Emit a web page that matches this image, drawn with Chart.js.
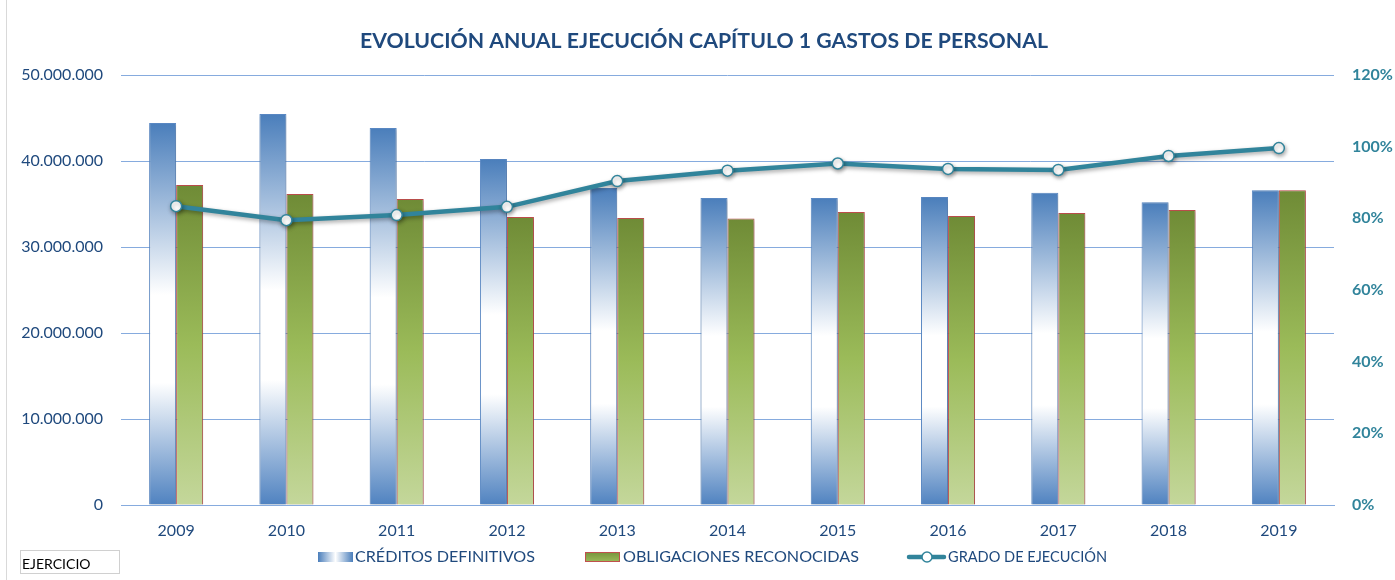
<!DOCTYPE html>
<html>
<head>
<meta charset="utf-8">
<script src="https://cdn.jsdelivr.net/npm/chart.js@4"></script>
<style>
  html, body { margin: 0; padding: 0; background: #fff; }
  #wrap { position: relative; width: 1395px; height: 580px; }
  #border { position: absolute; left: 6px; top: 0; width: 1px; height: 580px; background: #d9d9d9; }
  #field {
    position: absolute; left: 20px; top: 550px; width: 100px; height: 24px;
    border: 1px solid #d0d0d0; font: 14px Lato, "Open Sans", sans-serif; color: #000;
    box-sizing: border-box; padding: 5px 0 0 1px; line-height: 16px;
  }
</style>
</head>
<body>
<div id="wrap">
  <canvas id="chart" width="1395" height="580"></canvas>
  <div id="border"></div>
  <div id="field">EJERCICIO</div>
</div>
<script>
const years = ["2009", "2010", "2011", "2012", "2013", "2014", "2015", "2016", "2017", "2018", "2019"];
const creditos = [44420000, 45470000, 43840000, 40230000, 36860000, 35700000, 35700000, 35800000, 36300000, 35200000, 36600000];
const obligaciones = [37200000, 36160000, 35580000, 33500000, 33370000, 33300000, 34070000, 33600000, 33950000, 34300000, 36600000];
const grado = [0.834, 0.795, 0.809, 0.832, 0.904, 0.933, 0.953, 0.938, 0.935, 0.974, 0.996];
const leftTicks = [0, 10000000, 20000000, 30000000, 40000000, 50000000];
const rightTicks = [0, 0.2, 0.4, 0.6, 0.8, 1.0, 1.2];

const TITLE = "EVOLUCIÓN ANUAL EJECUCIÓN CAPÍTULO 1 GASTOS DE PERSONAL";
const FONT = "Lato, 'Open Sans', sans-serif";
const DARK_BLUE = "#1F497D";
const TEAL = "#31849B";
const GRID = "#86ABDE";

function fmtThousands(v) {
  return String(Math.round(v)).replace(/\B(?=(\d{3})+(?!\d))/g, ".");
}

// draw text squeezed/stretched to a given width
function fitText(ctx, text, x, y, width) {
  const w = ctx.measureText(text).width;
  ctx.save();
  ctx.translate(x, y);
  ctx.scale(width / w, 1);
  ctx.fillText(text, 0, 0);
  ctx.restore();
}

function blueGrad(ctx, top, bottom) {
  const g = ctx.createLinearGradient(0, top, 0, bottom);
  g.addColorStop(0, "#4A7EBB");
  g.addColorStop(0.45, "#ffffff");
  g.addColorStop(0.68, "#ffffff");
  g.addColorStop(1, "#4F82C0");
  return g;
}

function greenGrad(ctx, top, bottom) {
  const g = ctx.createLinearGradient(0, top, 0, bottom);
  g.addColorStop(0, "#6F8B36");
  g.addColorStop(0.5, "#9BBB59");
  g.addColorStop(1, "#C4D79B");
  return g;
}

function barFill(kind) {
  return function (c) {
    const chart = c.chart;
    if (!chart.chartArea) return kind === "blue" ? "#4A7EBB" : "#77933C";
    const y = chart.scales.y;
    const top = y.getPixelForValue(c.raw || 0);
    const bottom = y.getPixelForValue(0);
    return kind === "blue" ? blueGrad(chart.ctx, top, bottom) : greenGrad(chart.ctx, top, bottom);
  };
}

// shadows, title and legend drawn on the canvas
const decor = {
  id: "decor",
  beforeDatasetDraw(chart, args) {
    const ctx = chart.ctx;
    ctx.save();
    if (args.meta.type === "line") {
      ctx.shadowColor = "rgba(0,0,0,0.35)";
      ctx.shadowBlur = 4;
      ctx.shadowOffsetX = 1;
      ctx.shadowOffsetY = 2;
    } else {
      ctx.shadowColor = "rgba(0,0,0,0.25)";
      ctx.shadowBlur = 3;
      ctx.shadowOffsetX = 1;
      ctx.shadowOffsetY = 1;
    }
  },
  afterDatasetDraw(chart) {
    chart.ctx.restore();
  },
  afterDraw(chart) {
    const ctx = chart.ctx;
    ctx.save();
    ctx.fillStyle = DARK_BLUE;
    ctx.font = "bold 21px " + FONT;
    ctx.textAlign = "left";
    ctx.textBaseline = "middle";
    fitText(ctx, TITLE, 360, 41, 688);

    // legend
    const ly = 557;
    ctx.font = "16px " + FONT;

    const bg = ctx.createLinearGradient(318, 0, 353, 0);
    bg.addColorStop(0, "#4A7EBB");
    bg.addColorStop(0.5, "#ffffff");
    bg.addColorStop(1, "#4A7EBB");
    ctx.fillStyle = bg;
    ctx.fillRect(318, ly - 5, 35, 10);
    ctx.fillStyle = DARK_BLUE;
    fitText(ctx, "CRÉDITOS DEFINITIVOS", 355, ly, 180);

    const gg = ctx.createLinearGradient(0, ly - 5, 0, ly + 5);
    gg.addColorStop(0, "#77933C");
    gg.addColorStop(1, "#9BBB59");
    ctx.fillStyle = gg;
    ctx.fillRect(585, ly - 5, 35, 10);
    ctx.strokeStyle = "#C0504D";
    ctx.lineWidth = 1;
    ctx.strokeRect(585.5, ly - 4.5, 34, 9);
    ctx.fillStyle = DARK_BLUE;
    fitText(ctx, "OBLIGACIONES RECONOCIDAS", 623, ly, 236);

    ctx.strokeStyle = TEAL;
    ctx.lineWidth = 4.5;
    ctx.lineCap = "round";
    ctx.beginPath();
    ctx.moveTo(909, ly);
    ctx.lineTo(944, ly);
    ctx.stroke();
    ctx.beginPath();
    ctx.arc(927, ly, 5, 0, Math.PI * 2);
    ctx.fillStyle = "#fff";
    ctx.fill();
    ctx.lineWidth = 1.5;
    ctx.stroke();
    ctx.fillStyle = DARK_BLUE;
    fitText(ctx, "GRADO DE EJECUCIÓN", 948, ly, 159);
    ctx.restore();
  }
};

new Chart(document.getElementById("chart").getContext("2d"), {
  data: {
    labels: years,
    datasets: [
      {
        type: "line",
        label: "GRADO DE EJECUCIÓN",
        data: grado,
        yAxisID: "y1",
        borderColor: TEAL,
        borderWidth: 4.5,
        pointRadius: 5.5,
        pointBackgroundColor: "#ffffff",
        pointBorderColor: TEAL,
        pointBorderWidth: 1.5,
        tension: 0,
        order: 0
      },
      {
        type: "bar",
        label: "CRÉDITOS DEFINITIVOS",
        data: creditos,
        yAxisID: "y",
        backgroundColor: barFill("blue"),
        borderColor: "#5B8AC6",
        borderWidth: 1,
        categoryPercentage: 0.49,
        barPercentage: 1,
        order: 1
      },
      {
        type: "bar",
        label: "OBLIGACIONES RECONOCIDAS",
        data: obligaciones,
        yAxisID: "y",
        backgroundColor: barFill("green"),
        borderColor: "#C0504D",
        borderWidth: 1,
        categoryPercentage: 0.49,
        barPercentage: 1,
        order: 1
      }
    ]
  },
  options: {
    responsive: false,
    animation: false,
    layout: { padding: { top: 75, right: 0, bottom: 0, left: 0 } },
    plugins: {
      legend: { display: false },
      title: { display: false },
      tooltip: { enabled: false }
    },
    scales: {
      x: {
        grid: { display: false, drawTicks: false },
        border: { color: GRID },
        ticks: { color: DARK_BLUE, font: { family: FONT, size: 16 }, padding: 16 },
        afterFit(s) { s.height = 75; }
      },
      y: {
        position: "left",
        min: 0,
        max: 50000000,
        afterBuildTicks(s) { s.ticks = leftTicks.map(v => ({ value: v })); },
        grid: { color: GRID, drawTicks: false },
        border: { display: false },
        ticks: {
          color: DARK_BLUE,
          font: { family: FONT, size: 16 },
          padding: 18,
          callback: v => fmtThousands(v)
        },
        afterFit(s) { s.width = 121; }
      },
      y1: {
        position: "right",
        min: 0,
        max: 1.2,
        afterBuildTicks(s) { s.ticks = rightTicks.map(v => ({ value: v })); },
        grid: { display: false, drawTicks: false },
        border: { display: false },
        ticks: {
          color: TEAL,
          font: { family: FONT, size: 16, weight: "bold" },
          padding: 18,
          callback: v => Math.round(v * 100) + "%"
        },
        afterFit(s) { s.width = 61; }
      }
    }
  },
  plugins: [decor]
});
</script>
</body>
</html>
